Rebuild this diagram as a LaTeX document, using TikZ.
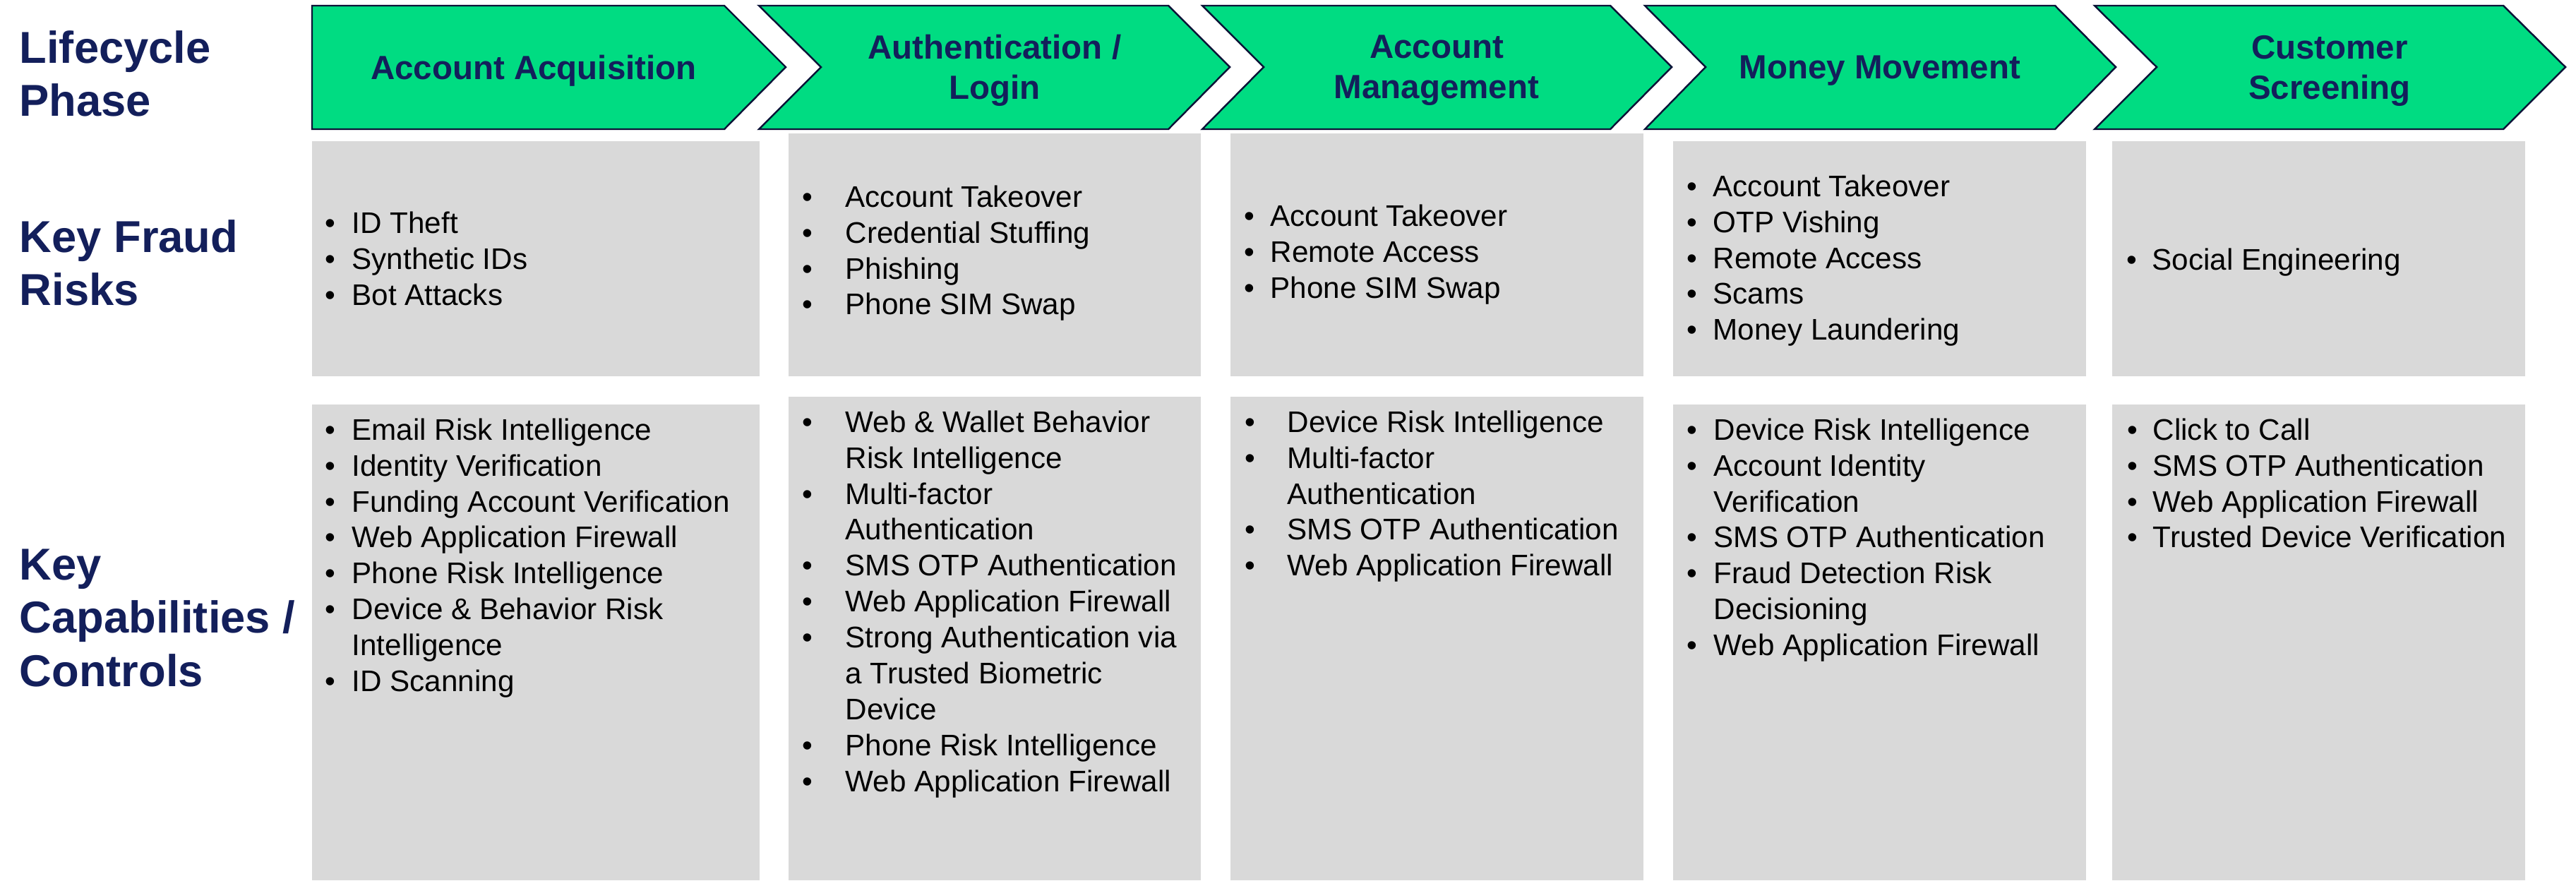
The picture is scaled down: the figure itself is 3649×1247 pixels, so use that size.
\documentclass[tikz,border=0pt]{standalone}
\usepackage{fontspec}
\setmainfont{Liberation Sans}
\usepackage{tikz}

\definecolor{phasegreen}{HTML}{00DC82}
\definecolor{navytext}{HTML}{131F5B}
\definecolor{boxgray}{HTML}{D9D9D9}

% bullet lists: first line of the stack is its baseline
\newlength\bulw
\newcommand\itm[1]{\par\hangindent=\bulw\hangafter=1\noindent\hbox to\bulw{\textbullet\hss}#1}
\newcommand\stack[2][0pt]{\vtop{\hsize=8cm\parindent=0pt\parskip=0pt\setlength\bulw{#1}#2}}

\begin{document}
\begin{tikzpicture}[x=0.01cm, y=-0.01cm,
    phase/.style={fill=phasegreen, draw=navytext!60!black, line width=0.7pt, line join=miter},
    phasetext/.style={align=center, inner sep=0pt, text=navytext,
        font=\fontsize{13.5}{16.2}\selectfont\bfseries},
    rowlabel/.style={anchor=base west, inner sep=0pt, text=navytext,
        font=\fontsize{18}{21.6}\selectfont\bfseries},
    cell/.style={fill=boxgray},
    items/.style={anchor=base west, inner sep=0pt, text=black,
        font=\fontsize{12}{14.5}\selectfont}]

    \useasboundingbox (0,0) rectangle (3649,1247);

    % row labels
    \node[rowlabel] (lblphase) at (27,89) {\stack{Lifecycle\newline Phase}};
    \node[rowlabel] (lblrisks) at (27,357) {\stack{Key Fraud\newline Risks}};
    \node[rowlabel] (lblctrl) at (27,821) {\stack{Key\newline Capabilities /\newline Controls}};

    % lifecycle chevrons
    \draw[phase]
        (442,8) -- (1026,8) -- (1113,95) -- (1026,183) -- (442,183) -- cycle;
    \draw[phase]
        (1075,8) -- (1655,8) -- (1742,95) -- (1655,183) -- (1075,183) -- (1163,95) -- cycle;
    \draw[phase]
        (1703,8) -- (2281,8) -- (2368,95) -- (2281,183) -- (1703,183) -- (1790,95) -- cycle;
    \draw[phase]
        (2330,8) -- (2911,8) -- (2997,95) -- (2911,183) -- (2330,183) -- (2416,95) -- cycle;
    \draw[phase]
        (2967,8) -- (3546,8) -- (3634,95) -- (3546,183) -- (2967,183) -- (3055,95) -- cycle;

    \node[phasetext] (ph1) at (756,100) {Account Acquisition};
    \node[phasetext] (ph2) at (1409,100) {Authentication /\\Login};
    \node[phasetext] (ph3) at (2035,100) {Account\\Management};
    \node[phasetext] (ph4) at (2663,100) {Money Movement};
    \node[phasetext] (ph5) at (3300,100) {Customer\\Screening};

    % fraud risk cells
    \fill[cell] (442,200) rectangle (1076,533);
    \fill[cell] (1117,189) rectangle (1701,533);
    \fill[cell] (1743,189) rectangle (2328,533);
    \fill[cell] (2370,200) rectangle (2955,533);
    \fill[cell] (2992,200) rectangle (3577,533);

    % capability cells
    \fill[cell] (442,573) rectangle (1076,1247);
    \fill[cell] (1117,562) rectangle (1701,1247);
    \fill[cell] (1743,562) rectangle (2328,1247);
    \fill[cell] (2370,573) rectangle (2955,1247);
    \fill[cell] (2992,573) rectangle (3577,1247);

    \node[items] (risk1) at (460,330) {\stack[0.38cm]{%
        \itm{ID Theft}\itm{Synthetic IDs}\itm{Bot Attacks}}};
    \node[items] (risk2) at (1136,293) {\stack[0.61cm]{%
        \itm{Account Takeover}\itm{Credential Stuffing}\itm{Phishing}\itm{Phone SIM Swap}}};
    \node[items] (risk3) at (1762,320) {\stack[0.37cm]{%
        \itm{Account Takeover}\itm{Remote Access}\itm{Phone SIM Swap}}};
    \node[items] (risk4) at (2389,278) {\stack[0.37cm]{%
        \itm{Account Takeover}\itm{OTP Vishing}\itm{Remote Access}\itm{Scams}\itm{Money Laundering}}};
    \node[items] (risk5) at (3012,382) {\stack[0.36cm]{%
        \itm{Social Engineering}}};

    \node[items] (ctrl1) at (460,623) {\stack[0.38cm]{%
        \itm{Email Risk Intelligence}
        \itm{Identity Verification}
        \itm{Funding Account Verification}
        \itm{Web Application Firewall}
        \itm{Phone Risk Intelligence}
        \itm{Device \& Behavior Risk\newline Intelligence}
        \itm{ID Scanning}}};
    \node[items] (ctrl2) at (1136,612) {\stack[0.61cm]{%
        \itm{Web \& Wallet Behavior\newline Risk Intelligence}
        \itm{Multi-factor\newline Authentication}
        \itm{SMS OTP Authentication}
        \itm{Web Application Firewall}
        \itm{Strong Authentication via\newline a Trusted Biometric\newline Device}
        \itm{Phone Risk Intelligence}
        \itm{Web Application Firewall}}};
    \node[items] (ctrl3) at (1763,612) {\stack[0.60cm]{%
        \itm{Device Risk Intelligence}
        \itm{Multi-factor\newline Authentication}
        \itm{SMS OTP Authentication}
        \itm{Web Application Firewall}}};
    \node[items] (ctrl4) at (2389,623) {\stack[0.38cm]{%
        \itm{Device Risk Intelligence}
        \itm{Account Identity\newline Verification}
        \itm{SMS OTP Authentication}
        \itm{Fraud Detection Risk\newline Decisioning}
        \itm{Web Application Firewall}}};
    \node[items] (ctrl5) at (3013,623) {\stack[0.36cm]{%
        \itm{Click to Call}
        \itm{SMS OTP Authentication}
        \itm{Web Application Firewall}
        \itm{Trusted Device Verification}}};

\end{tikzpicture}
\end{document}
